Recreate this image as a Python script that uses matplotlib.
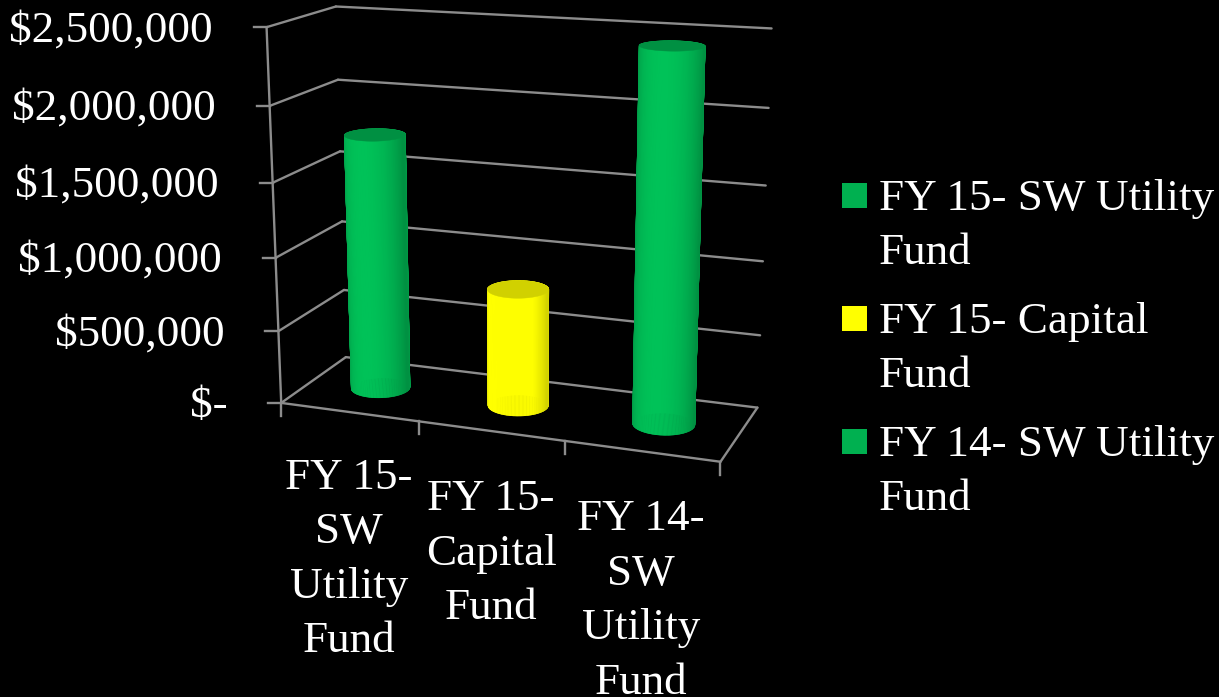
import numpy as np
import matplotlib
matplotlib.use('Agg')
import matplotlib.pyplot as plt
from matplotlib.collections import PolyCollection
from matplotlib.patches import Rectangle

categories = ['FY 15-\nSW\nUtility\nFund', 'FY 15-\nCapital\nFund', 'FY 14-\nSW\nUtility\nFund']
values = [1750000, 800000, 2440000]
bar_colors = ['#00B050', '#FFFF00', '#00B050']
tick_values = [0, 500000, 1000000, 1500000, 2000000, 2500000]
tick_labels = ['$-', '$500,000', '$1,000,000', '$1,500,000', '$2,000,000', '$2,500,000']
legend_labels = ['FY 15- SW Utility\nFund', 'FY 15- Capital\nFund', 'FY 14- SW Utility\nFund']
legend_colors = ['#00B050', '#FFFF00', '#00B050']

vmax = 2500000.0
line_color = '#8C8C8C'
font_name = ['Liberation Serif', 'DejaVu Serif']
font_size = 32.5

# pixel positions of the chart box corners, used to fit the 3d camera
# (category position, depth, value fraction) -> (pixel x, pixel y)
box_pts = [
    (0, 0, 1.0, 267, 28), (0, 0, 0.8, 270, 105), (0, 0, 0.6, 273, 182),
    (0, 0, 0.4, 276, 257), (0, 0, 0.2, 278, 331), (0, 0, 0.0, 281, 403),
    (0, 1, 1.0, 335, 6), (0, 1, 0.8, 337, 80), (0, 1, 0.6, 340, 152),
    (0, 1, 0.4, 342, 222), (0, 1, 0.2, 345, 290), (0, 1, 0.0, 346, 357),
    (3, 1, 1.0, 772, 29), (3, 1, 0.8, 768, 108), (3, 1, 0.6, 766, 186),
    (3, 1, 0.4, 764, 260), (3, 1, 0.2, 760, 335), (3, 1, 0.0, 757, 407),
    (3, 0, 0.0, 720, 462), (1, 0, 0.0, 419, 422), (2, 0, 0.0, 565, 442),
]

def fit_camera(pts):
    A = []
    b = []
    for x, z, v, u, w in pts:
        A.append([x, z, v, 1, 0, 0, 0, 0, -u*x, -u*z, -u*v])
        b.append(u)
        A.append([0, 0, 0, 0, x, z, v, 1, -w*x, -w*z, -w*v])
        b.append(w)
    p = np.linalg.lstsq(np.array(A, float), np.array(b, float), rcond=None)[0]
    return np.append(p, 1.0).reshape(3, 4)

cam = fit_camera(box_pts)

def project(x, z, value):
    x = np.asarray(x, float)
    z = np.asarray(z, float)
    v = np.asarray(value, float) / vmax
    d = cam[2, 0]*x + cam[2, 1]*z + cam[2, 2]*v + cam[2, 3]
    px = (cam[0, 0]*x + cam[0, 1]*z + cam[0, 2]*v + cam[0, 3]) / d
    py = (cam[1, 0]*x + cam[1, 1]*z + cam[1, 2]*v + cam[1, 3]) / d
    return px, py

def draw_line(ax, a, b):
    p0 = project(*a)
    p1 = project(*b)
    ax.plot([p0[0], p1[0]], [p0[1], p1[1]], color=line_color, linewidth=1.7,
            solid_capstyle='round', zorder=1)

def shade(color, f):
    rgb = np.array(matplotlib.colors.to_rgb(color)) * f
    return tuple(np.clip(rgb, 0, 1))

def draw_cylinder(ax, xc, zc, value, color, rx=0.2, rz=0.2):
    n = 240
    t = np.linspace(0, 2*np.pi, n + 1)
    cx = xc + rx*np.cos(t)
    cz = zc + rz*np.sin(t)
    bx, by = project(cx, cz, np.zeros(n + 1))
    tx, ty = project(cx, cz, np.full(n + 1, value))
    quads = []
    cols = []
    # back of the cylinder first so the front covers it
    order = np.argsort(-np.sin(t[:-1]))
    for i in order:
        quads.append([(bx[i], by[i]), (bx[i+1], by[i+1]), (tx[i+1], ty[i+1]), (tx[i], ty[i])])
        u = np.cos(t[i] + np.pi/n)
        cols.append(shade(color, 0.82 + 0.29*np.sqrt(max(1 - u*u, 0))**1.2))
    body = PolyCollection(quads, facecolors=cols, edgecolors=cols, linewidths=0.4, zorder=3)
    body.set_snap(False)
    ax.add_collection(body)
    cap = ax.fill(tx, ty, color=shade(color, 0.82), linewidth=0.3, zorder=4)
    cap[0].set_snap(False)

fig = plt.figure(figsize=(12.19, 6.97), dpi=100, facecolor='black')
ax = fig.add_axes([0, 0, 1, 1])
ax.set_xlim(0, 1219)
ax.set_ylim(697, 0)
ax.axis('off')

# walls and floor
for val in tick_values:
    draw_line(ax, (0, 0, val), (0, 1, val))
    draw_line(ax, (0, 1, val), (3, 1, val))
draw_line(ax, (0, 0, 0), (0, 0, vmax))
draw_line(ax, (0, 0, 0), (3, 0, 0))
draw_line(ax, (3, 0, 0), (3, 1, 0))

# tick marks
for val, lab in zip(tick_values, tick_labels):
    px, py = project(0, 0, val)
    ax.plot([px - 13, px], [py, py], color=line_color, linewidth=1.7, zorder=1)
    ax.text(px - 54, py + 3, lab, color='white', ha='right', va='center',
            family=font_name, fontsize=font_size)
for i in range(len(categories) + 1):
    px, py = project(i, 0, 0)
    ax.plot([px, px], [py, py + 13], color=line_color, linewidth=1.7, zorder=1)

# bars
for i, (val, col) in enumerate(zip(values, bar_colors)):
    draw_cylinder(ax, i + 0.5, 0.5, val, col)

# category labels
label_x = [349, 491, 641]
label_y = [478, 499, 519]
for lab, lx, ly in zip(categories, label_x, label_y):
    for j, line in enumerate(lab.split('\n')):
        ax.text(lx, ly + j*54.5, line, color='white', ha='center', va='center',
                family=font_name, fontsize=font_size)

# legend
leg_y = [195, 318, 441]
for lab, col, ly in zip(legend_labels, legend_colors, leg_y):
    ax.add_patch(Rectangle((842, ly - 12), 25, 25, facecolor=col, edgecolor='none'))
    for j, line in enumerate(lab.split('\n')):
        ax.text(879, ly + 4 + j*54, line, color='white', ha='left', va='center',
                family=font_name, fontsize=font_size)

fig.savefig('out.png', dpi=100, facecolor='black')
